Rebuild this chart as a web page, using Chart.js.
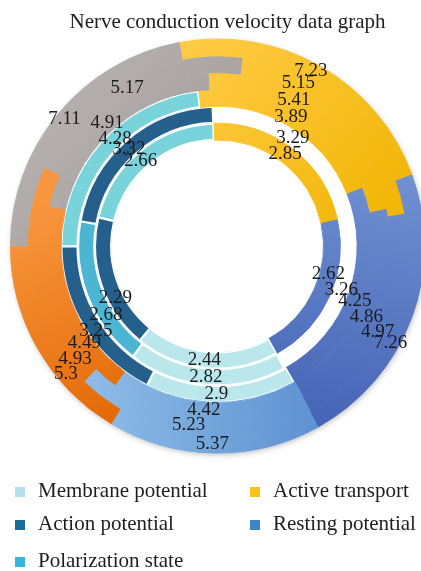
<!DOCTYPE html>
<html>
<head>
<meta charset="utf-8">
<title>Nerve conduction velocity data graph</title>
<script src="https://cdn.jsdelivr.net/npm/chart.js@4.4.1/dist/chart.umd.min.js"></script>
<style>
  html, body { margin: 0; padding: 0; background: #fff; }
  #wrap { position: relative; width: 421px; height: 571px; overflow: hidden; }
  #chart { position: absolute; left: 0; top: 0; }
  #title {
    position: absolute; top: 9px; left: 0; width: 421px; padding-left: 34px;
    box-sizing: border-box; text-align: center;
    font: 21px/24px "Liberation Serif", serif; color: #1e1e1e;
  }
  .key { position: absolute; font: 21px/24px "Liberation Serif", serif; color: #1e1e1e; white-space: nowrap; }
  .key i { display: inline-block; width: 10px; height: 10px; margin-right: 13px; }
</style>
</head>
<body>
<div id="wrap">
  <canvas id="chart" width="421" height="571"></canvas>
  <div id="title">Nerve conduction velocity data graph</div>
  <div id="legend"></div>
</div>
<script>
// Slices in every ring run clockwise: active transport, resting potential,
// membrane potential, lower-left slice, upper-left slice.
const slices = ['Active transport', 'Resting potential', 'Membrane potential', 'Action potential', 'Polarization state'];

// Conduction velocity readings, innermost ring first
const ring1 = [2.85, 2.62, 2.44, 2.29, 2.66];
const ring2 = [3.29, 3.26, 2.82, 2.68, 3.32];
const ring3 = [3.89, 4.25, 2.90, 3.25, 4.28];
const ring4 = [5.41, 4.86, 4.42, 4.49, 4.91];
const ring5 = [5.15, 4.97, 5.23, 4.93, 5.17];
const ring6 = [7.23, 7.26, 5.37, 5.30, 7.11];

// Legend entries
const legendLabels = ['Membrane potential', 'Action potential', 'Polarization state', 'Active transport', 'Resting potential'];

// ---- styling ----
const rings = [ring1, ring2, ring3, ring4, ring5, ring6];
const ringStart = [-2, -2, -7.2, -3.1, 7.5, -10.7];   // first-slice angle of each ring (deg, clockwise from top)
const ringFill = [
  ['gold', 'azure', 'mist', 'navy', 'teal'],
  ['none', 'none', 'mist', 'cyan', 'navy'],
  ['gold', 'azure', 'mist', 'navy', 'teal'],
  ['gold', 'azure', 'sky', 'ember', 'ash'],
  ['gold', 'azure', 'sky', 'ember', 'ash'],
  ['gold', 'azure', 'sky', 'ember', 'ash']
];
const outlined = ['mist', 'navy', 'teal', 'cyan'];   // slices drawn with a thin white rim
// where along each slice (0 = start, 1 = end) its value is written
const labelSweep = [
  [0.48, 0.36, 0.52, 0.37, 0.46],
  [0.48, 0.45, 0.51, 0.33, 0.48],
  [0.49, 0.53, 0.53, 0.45, 0.56],
  [0.38, 0.52, 0.52, 0.26, 0.47],
  [0.26, 0.54, 0.52, 0.10, 0.49],
  [0.48, 0.61, 0.51, 0.32, 0.50]
];
const legendColors = ['#b3e2ee', '#1d6a98', '#35b5da', '#f8c218', '#3f86c9'];

const solid = {
  none: 'rgba(255,255,255,0)',
  mist: '#b9e7ec',
  navy: '#255f8c',
  cyan: '#4cb5d2',
  teal: '#79d3da'
};

let gradCache = null;
function paint(chart, key) {
  if (solid[key]) return solid[key];
  const a = chart.chartArea;
  if (!a) return '#cccccc';
  const cx = (a.left + a.right) / 2, cy = (a.top + a.bottom) / 2;
  const R = Math.min(a.width, a.height) / 2;
  const tag = cx + ',' + cy + ',' + R;
  if (!gradCache || gradCache.tag !== tag) {
    const ctx = chart.ctx;
    const lin = (x0, y0, x1, y1, c0, c1) => {
      const g = ctx.createLinearGradient(cx + x0 * R, cy + y0 * R, cx + x1 * R, cy + y1 * R);
      g.addColorStop(0, c0); g.addColorStop(1, c1);
      return g;
    };
    gradCache = {
      tag,
      gold: lin(-0.1, -1, 0.95, -0.1, '#ffcb45', '#f0b400'),
      azure: lin(0.6, -0.5, 0.3, 1, '#7393d3', '#405fb3'),
      sky: lin(-0.6, 0.8, 0.5, 0.8, '#8dbbe7', '#5d92d1'),
      ember: lin(-0.9, -0.2, -0.4, 0.8, '#f8973f', '#e46905'),
      ash: lin(-0.9, -0.8, -0.2, -0.2, '#b8b3b1', '#a6a19f')
    };
  }
  return gradCache[key];
}

// white rim on the outlined inner slices; the rest get a hairline in their
// own fill so neighbouring slices and rings meet without a seam
const isOutlined = (r, k) => r < 3 && outlined.includes(k);
const datasets = rings.map((vals, r) => ({
  data: vals,
  rotation: ringStart[r],
  backgroundColor: c => paint(c.chart, ringFill[r][c.dataIndex]),
  borderColor: c => {
    const k = ringFill[r][c.dataIndex];
    return isOutlined(r, k) ? '#ffffff' : paint(c.chart, k);
  },
  borderAlign: ringFill[r].map(k => isOutlined(r, k) ? 'inner' : 'center'),
  borderWidth: ringFill[r].map(k => isOutlined(r, k) ? 1.1 : (k === 'none' ? 0 : 1))
})).reverse();   // Chart.js lists the outermost ring first

const ringCount = rings.length;

// soft shadow round the outer rim
const rimShadow = {
  id: 'rimShadow',
  beforeDatasetsDraw(chart) {
    const arc = chart.getDatasetMeta(0).data[0];
    if (!arc) return;
    const p = arc.getProps(['x', 'y', 'outerRadius'], true);
    const ctx = chart.ctx;
    ctx.save();
    ctx.shadowColor = 'rgba(0,0,0,0.32)';
    ctx.shadowBlur = 6;
    ctx.shadowOffsetX = 1;
    ctx.shadowOffsetY = 2;
    ctx.fillStyle = '#ffffff';
    ctx.beginPath();
    ctx.arc(p.x, p.y, p.outerRadius - 1, 0, Math.PI * 2);
    ctx.fill();
    ctx.restore();
  }
};

const valueLabels = {
  id: 'valueLabels',
  afterDatasetsDraw(chart) {
    const ctx = chart.ctx;
    ctx.save();
    ctx.font = '19px "Liberation Serif", serif';
    ctx.fillStyle = '#1b1b1b';
    ctx.textAlign = 'center';
    ctx.textBaseline = 'middle';
    chart.data.datasets.forEach((ds, di) => {
      const ring = ringCount - 1 - di;
      chart.getDatasetMeta(di).data.forEach((arc, i) => {
        const p = arc.getProps(['x', 'y', 'startAngle', 'endAngle', 'innerRadius', 'outerRadius'], true);
        const ang = p.startAngle + (p.endAngle - p.startAngle) * labelSweep[ring][i];
        const rad = (p.innerRadius + p.outerRadius) / 2;
        ctx.fillText(String(ds.data[i]), p.x + Math.cos(ang) * rad, p.y + Math.sin(ang) * rad);
      });
    });
    ctx.restore();
  }
};

new Chart(document.getElementById('chart'), {
  type: 'doughnut',
  data: { labels: slices, datasets },
  options: {
    responsive: false,
    animation: false,
    devicePixelRatio: 1,
    events: [],
    radius: 207,
    cutout: '51.2%',
    layout: { padding: { left: 14, right: -7, top: 39, bottom: 118 } },
    plugins: { legend: { display: false }, title: { display: false }, tooltip: { enabled: false } }
  },
  plugins: [rimShadow, valueLabels]
});

// two-column legend under the rings
const legend = document.getElementById('legend');
const colX = [15, 250];
const rowTop = [477.6, 511, 547.6];
legendLabels.forEach((name, i) => {
  const col = i < 3 ? 0 : 1, row = i < 3 ? i : i - 3;
  const el = document.createElement('div');
  el.className = 'key';
  el.style.left = colX[col] + 'px';
  el.style.top = rowTop[row] + 'px';
  const sw = document.createElement('i');
  sw.style.background = legendColors[i];
  el.appendChild(sw);
  el.appendChild(document.createTextNode(name));
  legend.appendChild(el);
});
</script>
</body>
</html>
